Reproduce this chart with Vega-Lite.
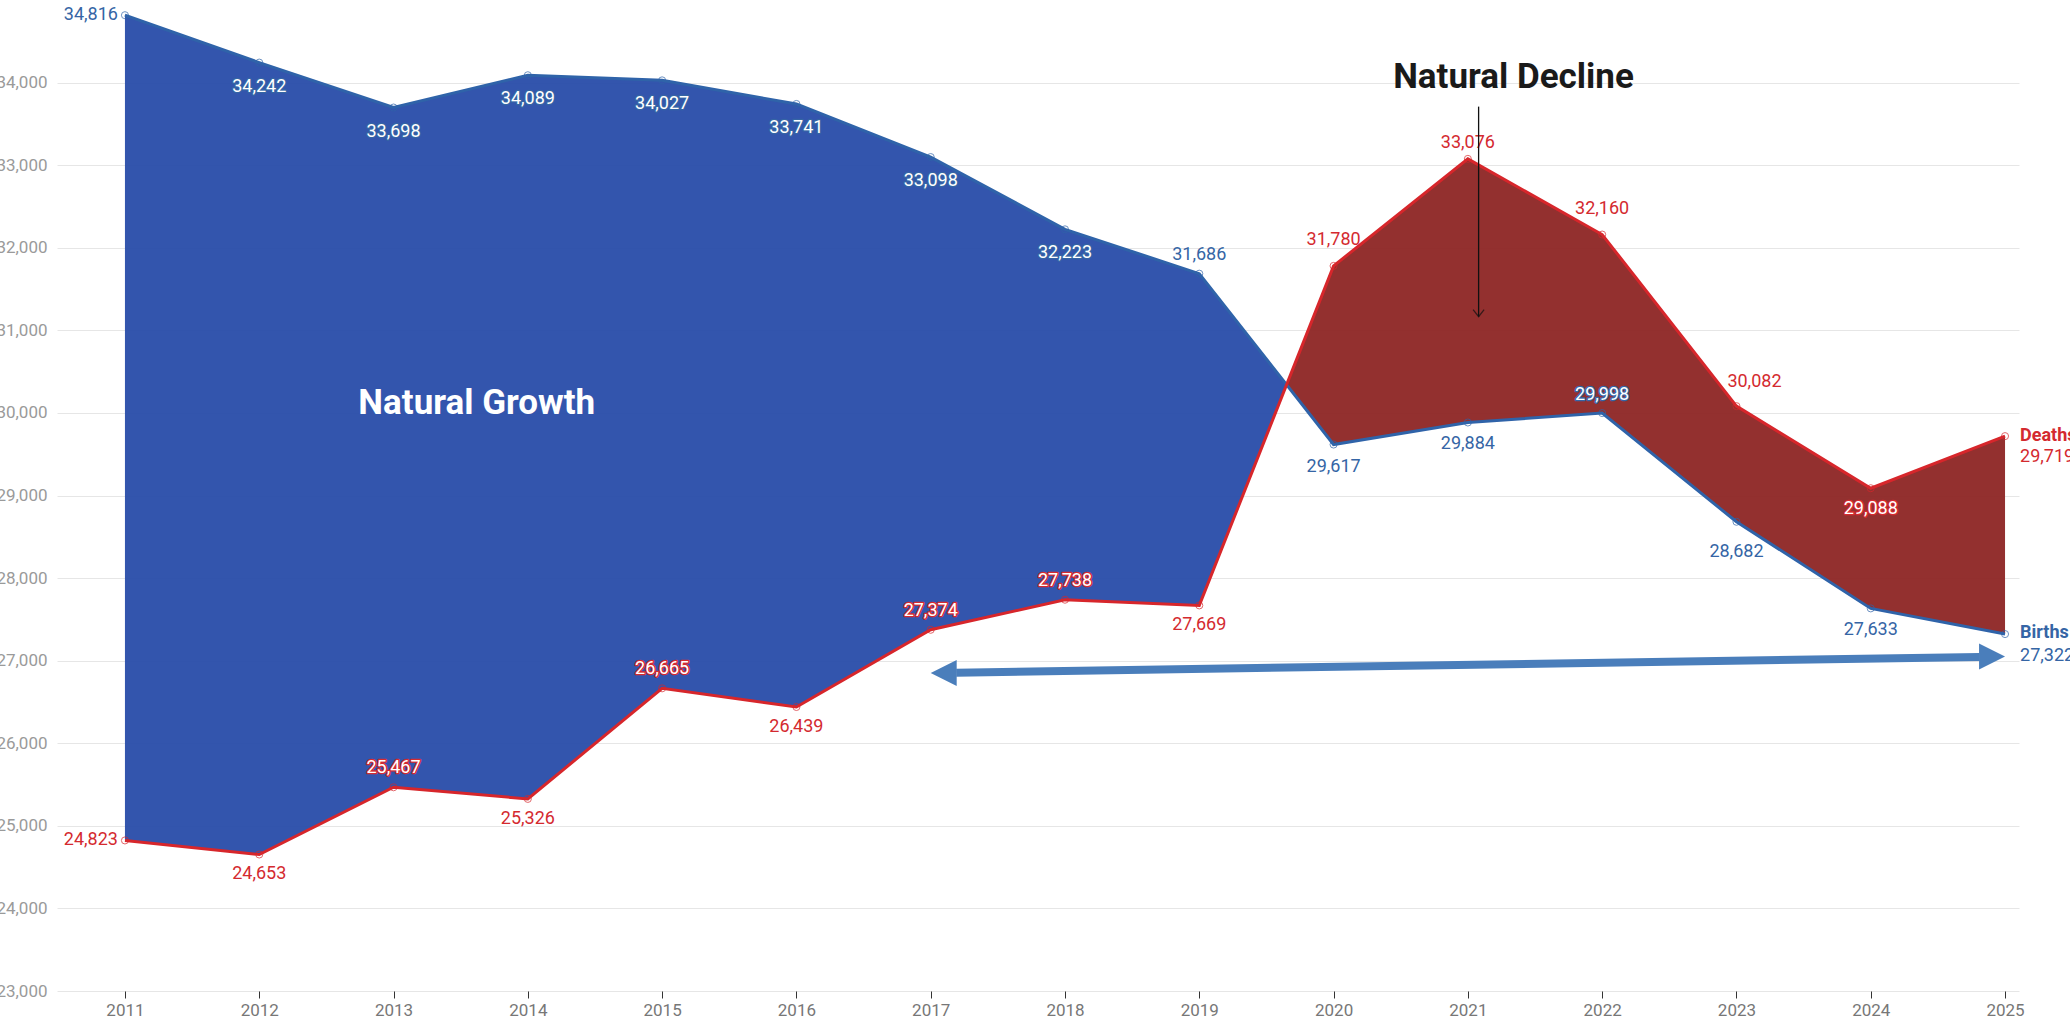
{
  "$schema": "https://vega.github.io/schema/vega-lite/v6.json",
  "width": 1962,
  "height": 991,
  "autosize": {"type": "none"},
  "padding": {"left": 57, "top": 0, "right": 51, "bottom": 38},
  "background": "white",
  "config": {"font": "Roboto", "view": {"stroke": null}},
  "datasets": {
    "main": [
      {"year": 2011, "series": "Births", "value": 34816},
      {"year": 2012, "series": "Births", "value": 34242},
      {"year": 2013, "series": "Births", "value": 33698},
      {"year": 2014, "series": "Births", "value": 34089},
      {"year": 2015, "series": "Births", "value": 34027},
      {"year": 2016, "series": "Births", "value": 33741},
      {"year": 2017, "series": "Births", "value": 33098},
      {"year": 2018, "series": "Births", "value": 32223},
      {"year": 2019, "series": "Births", "value": 31686},
      {"year": 2020, "series": "Births", "value": 29617},
      {"year": 2021, "series": "Births", "value": 29884},
      {"year": 2022, "series": "Births", "value": 29998},
      {"year": 2023, "series": "Births", "value": 28682},
      {"year": 2024, "series": "Births", "value": 27633},
      {"year": 2025, "series": "Births", "value": 27322},
      {"year": 2011, "series": "Deaths", "value": 24823},
      {"year": 2012, "series": "Deaths", "value": 24653},
      {"year": 2013, "series": "Deaths", "value": 25467},
      {"year": 2014, "series": "Deaths", "value": 25326},
      {"year": 2015, "series": "Deaths", "value": 26665},
      {"year": 2016, "series": "Deaths", "value": 26439},
      {"year": 2017, "series": "Deaths", "value": 27374},
      {"year": 2018, "series": "Deaths", "value": 27738},
      {"year": 2019, "series": "Deaths", "value": 27669},
      {"year": 2020, "series": "Deaths", "value": 31780},
      {"year": 2021, "series": "Deaths", "value": 33076},
      {"year": 2022, "series": "Deaths", "value": 32160},
      {"year": 2023, "series": "Deaths", "value": 30082},
      {"year": 2024, "series": "Deaths", "value": 29088},
      {"year": 2025, "series": "Deaths", "value": 29719}
    ],
    "fill": [
      {"year": 2011, "births": 34816, "deaths": 24823, "region": "growth"},
      {"year": 2012, "births": 34242, "deaths": 24653, "region": "growth"},
      {"year": 2013, "births": 33698, "deaths": 25467, "region": "growth"},
      {"year": 2014, "births": 34089, "deaths": 25326, "region": "growth"},
      {"year": 2015, "births": 34027, "deaths": 26665, "region": "growth"},
      {"year": 2016, "births": 33741, "deaths": 26439, "region": "growth"},
      {"year": 2017, "births": 33098, "deaths": 27374, "region": "growth"},
      {"year": 2018, "births": 32223, "deaths": 27738, "region": "growth"},
      {"year": 2019, "births": 31686, "deaths": 27669, "region": "growth"},
      {"year": 2019.65, "births": 30345, "deaths": 30345, "region": "growth"},
      {"year": 2019.65, "births": 30345, "deaths": 30345, "region": "decline"},
      {"year": 2020, "births": 29617, "deaths": 31780, "region": "decline"},
      {"year": 2021, "births": 29884, "deaths": 33076, "region": "decline"},
      {"year": 2022, "births": 29998, "deaths": 32160, "region": "decline"},
      {"year": 2023, "births": 28682, "deaths": 30082, "region": "decline"},
      {"year": 2024, "births": 27633, "deaths": 29088, "region": "decline"},
      {"year": 2025, "births": 27322, "deaths": 29719, "region": "decline"}
    ],
    "notes": [
      {"text": "Natural Growth", "year": 2013.62, "value": 30124, "kind": "growth"},
      {"text": "Natural Decline", "year": 2021.34, "value": 34073, "kind": "decline"}
    ],
    "pointer": [{"year": 2021.08, "value": 33709, "end": 31165}],
    "bluearrow": [{"year": 2017.19, "value": 26855, "year2": 2024.81, "value2": 27045}],
    "heads": [
      {"year": 2017, "value": 26850, "dir": "left"},
      {"year": 2025, "value": 27050, "dir": "right"}
    ]
  },
  "encoding": {
    "x": {
      "field": "year", "type": "quantitative",
      "scale": {"domain": [2010.494, 2025.104], "nice": false, "zero": false},
      "axis": {
        "values": [2011, 2012, 2013, 2014, 2015, 2016, 2017, 2018, 2019, 2020, 2021, 2022, 2023, 2024, 2025],
        "format": "d", "grid": false, "domain": false, "ticks": true, "tickSize": 7,
        "tickColor": "#333333", "tickWidth": 1, "labelFontSize": 17, "labelColor": "#777777",
        "labelPadding": 4, "title": null, "labelFlush": false, "labelOverlap": false, "labelFont": "Roboto"
      }
    },
    "y": {
      "field": "value", "type": "quantitative",
      "scale": {"domain": [23000, 35000], "nice": false, "zero": false},
      "axis": {
        "values": [23000, 24000, 25000, 26000, 27000, 28000, 29000, 30000, 31000, 32000, 33000, 34000],
        "format": ",d", "grid": true, "gridColor": "#e6e6e6", "gridWidth": 1, "domain": false, "ticks": false,
        "labelFontSize": 17, "labelColor": "#9a9a9a", "labelPadding": 10, "title": null,
        "labelFlush": false, "labelOverlap": false, "labelFont": "Roboto"
      }
    }
  },
  "layer": [
    {
      "data": {"name": "fill"},
      "transform": [{"filter": "datum.region == 'growth'"}],
      "mark": {"type": "area", "opacity": 0.93, "strokeWidth": 0, "color": "#2448a7"},
      "encoding": {
        "y": {
          "field": "births", "type": "quantitative", "stack": null,
          "scale": {"domain": [23000, 35000], "nice": false, "zero": false},
          "axis": {
            "values": [23000, 24000, 25000, 26000, 27000, 28000, 29000, 30000, 31000, 32000, 33000, 34000],
            "format": ",d", "grid": true, "gridColor": "#e6e6e6", "gridWidth": 1, "domain": false, "ticks": false,
            "labelFontSize": 17, "labelColor": "#9a9a9a", "labelPadding": 10, "title": null,
            "labelFlush": false, "labelOverlap": false, "labelFont": "Roboto"
          }
        },
        "y2": {"field": "deaths"}
      }
    },
    {
      "data": {"name": "fill"},
      "transform": [{"filter": "datum.region == 'decline'"}],
      "mark": {"type": "area", "opacity": 0.93, "strokeWidth": 0, "color": "#8b201f"},
      "encoding": {
        "y": {
          "field": "births", "type": "quantitative", "stack": null,
          "scale": {"domain": [23000, 35000], "nice": false, "zero": false},
          "axis": {
            "values": [23000, 24000, 25000, 26000, 27000, 28000, 29000, 30000, 31000, 32000, 33000, 34000],
            "format": ",d", "grid": true, "gridColor": "#e6e6e6", "gridWidth": 1, "domain": false, "ticks": false,
            "labelFontSize": 17, "labelColor": "#9a9a9a", "labelPadding": 10, "title": null,
            "labelFlush": false, "labelOverlap": false, "labelFont": "Roboto"
          }
        },
        "y2": {"field": "deaths"}
      }
    },
    {
      "data": {"name": "main"},
      "transform": [{"filter": "datum.series == 'Births'"}],
      "mark": {"type": "line", "strokeWidth": 3, "color": "#2f63a9"}
    },
    {
      "data": {"name": "main"},
      "transform": [{"filter": "datum.series == 'Deaths'"}],
      "mark": {"type": "line", "strokeWidth": 3, "color": "#d7262b"}
    },
    {
      "data": {"name": "main"},
      "transform": [{"filter": "datum.series == 'Births'"}],
      "mark": {"type": "point", "filled": false, "size": 50, "strokeWidth": 1, "color": "#2f63a9"}
    },
    {
      "data": {"name": "main"},
      "transform": [{"filter": "datum.series == 'Deaths'"}],
      "mark": {"type": "point", "filled": false, "size": 50, "strokeWidth": 1, "color": "#d7262b"}
    },
    {
      "data": {"name": "main"},
      "transform": [{"filter": "datum.series == 'Births' && (datum.year == 2011)"}],
      "mark": {"type": "text", "align": "right", "baseline": "middle", "dx": -7, "fontSize": 18, "color": "#3565a5"},
      "encoding": {"text": {"field": "value", "type": "quantitative", "format": ",d"}}
    },
    {
      "data": {"name": "main"},
      "transform": [{"filter": "datum.series == 'Deaths' && (datum.year == 2011)"}],
      "mark": {"type": "text", "align": "right", "baseline": "middle", "dx": -7, "fontSize": 18, "color": "#d42a2f"},
      "encoding": {"text": {"field": "value", "type": "quantitative", "format": ",d"}}
    },
    {
      "data": {"name": "main"},
      "transform": [{"filter": "datum.series == 'Births' && indexof([2020, 2021, 2024], datum.year) >= 0"}],
      "mark": {"type": "text", "align": "center", "baseline": "middle", "dy": 22, "fontSize": 18, "color": "#3565a5"},
      "encoding": {"text": {"field": "value", "type": "quantitative", "format": ",d"}}
    },
    {
      "data": {"name": "main"},
      "transform": [{"filter": "datum.series == 'Births' && datum.year == 2023"}],
      "mark": {"type": "text", "align": "center", "baseline": "middle", "dy": 30, "fontSize": 18, "color": "#3565a5"},
      "encoding": {"text": {"field": "value", "type": "quantitative", "format": ",d"}}
    },
    {
      "data": {"name": "main"},
      "transform": [{"filter": "datum.series == 'Deaths' && indexof([2012, 2014, 2016, 2019], datum.year) >= 0"}],
      "mark": {"type": "text", "align": "center", "baseline": "middle", "dy": 20, "fontSize": 18, "color": "#d42a2f"},
      "encoding": {"text": {"field": "value", "type": "quantitative", "format": ",d"}}
    },
    {
      "data": {"name": "main"},
      "transform": [{"filter": "datum.series == 'Births' && datum.year == 2019"}],
      "mark": {"type": "text", "align": "center", "baseline": "middle", "dy": -19, "fontSize": 18, "color": "#3565a5"},
      "encoding": {"text": {"field": "value", "type": "quantitative", "format": ",d"}}
    },
    {
      "data": {"name": "main"},
      "transform": [{"filter": "datum.series == 'Deaths' && datum.year == 2021"}],
      "mark": {"type": "text", "align": "center", "baseline": "middle", "dy": -16, "fontSize": 18, "color": "#d42a2f"},
      "encoding": {"text": {"field": "value", "type": "quantitative", "format": ",d"}}
    },
    {
      "data": {"name": "main"},
      "transform": [{"filter": "datum.series == 'Deaths' && indexof([2020, 2022], datum.year) >= 0"}],
      "mark": {"type": "text", "align": "center", "baseline": "middle", "dy": -26, "fontSize": 18, "color": "#d42a2f"},
      "encoding": {"text": {"field": "value", "type": "quantitative", "format": ",d"}}
    },
    {
      "data": {"name": "main"},
      "transform": [{"filter": "datum.series == 'Deaths' && datum.year == 2023"}],
      "mark": {"type": "text", "align": "center", "baseline": "middle", "dx": 18, "dy": -24, "fontSize": 18, "color": "#d42a2f"},
      "encoding": {"text": {"field": "value", "type": "quantitative", "format": ",d"}}
    },
    {
      "data": {"name": "main"},
      "transform": [{"filter": "datum.series == 'Births' && datum.year == 2025"}],
      "mark": {"type": "text", "align": "left", "baseline": "middle", "dx": 15, "dy": 22, "fontSize": 18, "color": "#3565a5"},
      "encoding": {"text": {"field": "value", "type": "quantitative", "format": ",d"}}
    },
    {
      "data": {"name": "main"},
      "transform": [{"filter": "datum.series == 'Deaths' && datum.year == 2025"}],
      "mark": {"type": "text", "align": "left", "baseline": "middle", "dx": 15, "dy": 21, "fontSize": 18, "color": "#d42a2f"},
      "encoding": {"text": {"field": "value", "type": "quantitative", "format": ",d"}}
    },
    {
      "data": {"name": "main"},
      "transform": [{"filter": "datum.series == 'Births' && datum.year == 2025"}],
      "mark": {"type": "text", "align": "left", "baseline": "middle", "dx": 15, "dy": -1, "fontSize": 18, "fontWeight": "bold", "color": "#3565a5"},
      "encoding": {"text": {"field": "series", "type": "nominal"}}
    },
    {
      "data": {"name": "main"},
      "transform": [{"filter": "datum.series == 'Deaths' && datum.year == 2025"}],
      "mark": {"type": "text", "align": "left", "baseline": "middle", "dx": 15, "dy": 0, "fontSize": 18, "fontWeight": "bold", "color": "#d42a2f"},
      "encoding": {"text": {"field": "series", "type": "nominal"}}
    },
    {
      "data": {"name": "main"},
      "transform": [{"filter": "datum.series == 'Births' && datum.year >= 2012 && datum.year <= 2018"}],
      "mark": {"type": "text", "align": "center", "baseline": "middle", "dy": 24, "fontSize": 18, "color": "#3565a5", "stroke": "#3565a5", "strokeWidth": 2.6, "strokeJoin": "round"},
      "encoding": {"text": {"field": "value", "type": "quantitative", "format": ",d"}}
    },
    {
      "data": {"name": "main"},
      "transform": [{"filter": "datum.series == 'Births' && datum.year >= 2012 && datum.year <= 2018"}],
      "mark": {"type": "text", "align": "center", "baseline": "middle", "dy": 24, "fontSize": 18, "color": "#ffffff"},
      "encoding": {"text": {"field": "value", "type": "quantitative", "format": ",d"}}
    },
    {
      "data": {"name": "main"},
      "transform": [{"filter": "datum.series == 'Births' && datum.year == 2022"}],
      "mark": {"type": "text", "align": "center", "baseline": "middle", "dy": -18, "fontSize": 18, "color": "#3565a5", "stroke": "#3565a5", "strokeWidth": 2.6, "strokeJoin": "round"},
      "encoding": {"text": {"field": "value", "type": "quantitative", "format": ",d"}}
    },
    {
      "data": {"name": "main"},
      "transform": [{"filter": "datum.series == 'Births' && datum.year == 2022"}],
      "mark": {"type": "text", "align": "center", "baseline": "middle", "dy": -18, "fontSize": 18, "color": "#ffffff"},
      "encoding": {"text": {"field": "value", "type": "quantitative", "format": ",d"}}
    },
    {
      "data": {"name": "main"},
      "transform": [{"filter": "datum.series == 'Deaths' && indexof([2013, 2015, 2017, 2018], datum.year) >= 0"}],
      "mark": {"type": "text", "align": "center", "baseline": "middle", "dy": -19, "fontSize": 18, "color": "#d42a2f", "stroke": "#d42a2f", "strokeWidth": 2.6, "strokeJoin": "round"},
      "encoding": {"text": {"field": "value", "type": "quantitative", "format": ",d"}}
    },
    {
      "data": {"name": "main"},
      "transform": [{"filter": "datum.series == 'Deaths' && indexof([2013, 2015, 2017, 2018], datum.year) >= 0"}],
      "mark": {"type": "text", "align": "center", "baseline": "middle", "dy": -19, "fontSize": 18, "color": "#ffffff"},
      "encoding": {"text": {"field": "value", "type": "quantitative", "format": ",d"}}
    },
    {
      "data": {"name": "main"},
      "transform": [{"filter": "datum.series == 'Deaths' && datum.year == 2024"}],
      "mark": {"type": "text", "align": "center", "baseline": "middle", "dy": 21, "fontSize": 18, "color": "#d42a2f", "stroke": "#d42a2f", "strokeWidth": 2.6, "strokeJoin": "round"},
      "encoding": {"text": {"field": "value", "type": "quantitative", "format": ",d"}}
    },
    {
      "data": {"name": "main"},
      "transform": [{"filter": "datum.series == 'Deaths' && datum.year == 2024"}],
      "mark": {"type": "text", "align": "center", "baseline": "middle", "dy": 21, "fontSize": 18, "color": "#ffffff"},
      "encoding": {"text": {"field": "value", "type": "quantitative", "format": ",d"}}
    },
    {
      "data": {"name": "notes"},
      "transform": [{"filter": "datum.kind == 'growth'"}],
      "mark": {"type": "text", "align": "center", "baseline": "middle", "fontSize": 35, "fontWeight": "bold", "color": "#ffffff"},
      "encoding": {"text": {"field": "text", "type": "nominal"}}
    },
    {
      "data": {"name": "notes"},
      "transform": [{"filter": "datum.kind == 'decline'"}],
      "mark": {"type": "text", "align": "center", "baseline": "middle", "fontSize": 35, "fontWeight": "bold", "color": "#1a1a1a"},
      "encoding": {"text": {"field": "text", "type": "nominal"}}
    },
    {
      "data": {"name": "pointer"},
      "mark": {"type": "rule", "color": "#111111", "strokeWidth": 1.3},
      "encoding": {"y2": {"field": "end"}}
    },
    {
      "data": {"name": "pointer"},
      "mark": {"type": "point", "shape": "M-1,-1.3L0,0L1,-1.3", "filled": false, "size": 121, "strokeWidth": 1.3, "color": "#111111"},
      "encoding": {"y": {"field": "end", "type": "quantitative"}}
    },
    {
      "data": {"name": "bluearrow"},
      "mark": {"type": "rule", "color": "#4a7ebb", "strokeWidth": 8, "strokeCap": "butt"},
      "encoding": {"x2": {"field": "year2"}, "y2": {"field": "value2"}}
    },
    {
      "data": {"name": "heads"},
      "transform": [{"filter": "datum.dir == 'left'"}],
      "mark": {"type": "point", "shape": "M0,0L2,-1L2,1Z", "filled": true, "size": 676, "color": "#4a7ebb", "opacity": 1}
    },
    {
      "data": {"name": "heads"},
      "transform": [{"filter": "datum.dir == 'right'"}],
      "mark": {"type": "point", "shape": "M0,0L-2,-1L-2,1Z", "filled": true, "size": 676, "color": "#4a7ebb", "opacity": 1}
    }
  ]
}
